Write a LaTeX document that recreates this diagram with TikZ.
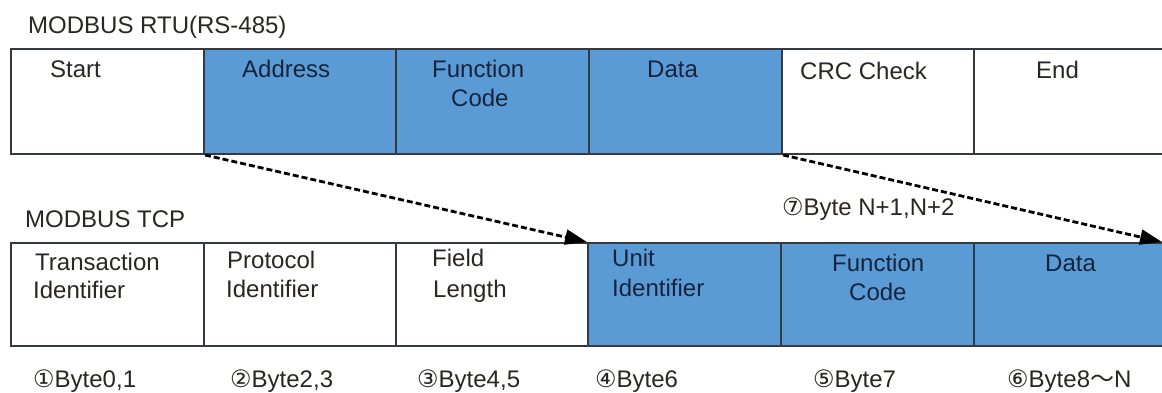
\documentclass[tikz,border=0pt]{standalone}
\usepackage{fontspec}
\setmainfont{Liberation Sans}
\newfontfamily\circfont{DejaVu Sans}
\newfontfamily\cjkfont{Noto Sans CJK SC}
\usetikzlibrary{arrows.meta}
\definecolor{mblue}{HTML}{5B9BD5}
\definecolor{edge}{HTML}{333A44}
\definecolor{navy}{HTML}{15243C}
\definecolor{ink}{HTML}{2A2622}
\begin{document}
\begin{tikzpicture}[x=1pt,y=-1pt,
  every node/.style={font=\fontsize{24}{29}\selectfont},
  wbox/.style={draw=edge, line width=2pt, fill=white, anchor=north west, inner sep=0pt, minimum width=#1},
  bbox/.style={draw=edge, line width=2pt, fill=mblue, anchor=north west, inner sep=0pt, minimum width=#1},
  toprow/.style={minimum height=105pt},
  botrow/.style={minimum height=103pt},
  wtxt/.style={anchor=base west, inner sep=0pt, text=ink, align=left},
  btxt/.style={anchor=base west, inner sep=0pt, text=navy, align=left},
  ttl/.style={anchor=base west, inner sep=0pt, text=ink},
  mapline/.style={line width=2.8pt, dash pattern=on 6pt off 3pt, -{Triangle[length=22pt,width=15pt]}}
]
\fill[white] (0,0) rectangle (1162,392);
\clip (0,0) rectangle (1162,392);
\useasboundingbox (0,0) rectangle (1162,392);

% titles
\node[ttl] (trtu) at (28,33) {MODBUS RTU(RS-485)};
\node[ttl] (ttcp) at (25,227) {MODBUS TCP};

% RTU row
\node[wbox=193pt, toprow] (r1) at (10,48) {};
\node[bbox=192pt, toprow] (r2) at (203,48) {};
\node[bbox=193pt, toprow] (r3) at (395,48) {};
\node[bbox=193pt, toprow] (r4) at (588,48) {};
\node[wbox=192pt, toprow] (r5) at (781,48) {};
\node[wbox=200pt, toprow] (r6) at (973,48) {};

\node[wtxt] (r1t) at (50,77) {Start};
\node[btxt] (r2t) at (242,77) {Address};
\node[btxt] (r3t) at (432,77) {Function};
\node[btxt] (r3u) at (451,106) {Code};
\node[btxt] (r4t) at (647,77) {Data};
\node[wtxt] (r5t) at (800,79) {CRC Check};
\node[wtxt] (r6t) at (1036,78) {End};

% TCP row
\node[wbox=193pt, botrow] (c1) at (10,242) {};
\node[wbox=192pt, botrow] (c2) at (203,242) {};
\node[wbox=192pt, botrow] (c3) at (395,242) {};
\node[bbox=193pt, botrow] (c4) at (587,242) {};
\node[bbox=193pt, botrow] (c5) at (780,242) {};
\node[bbox=200pt, botrow] (c6) at (973,242) {};

\node[wtxt] (c1t) at (35,270) {Transaction};
\node[wtxt] (c1u) at (33,298) {Identifier};
\node[wtxt] (c2t) at (227,268) {Protocol};
\node[wtxt] (c2u) at (226,297) {Identifier};
\node[wtxt] (c3t) at (432,266) {Field};
\node[wtxt] (c3u) at (433,297) {Length};
\node[btxt] (c4t) at (612,266) {Unit};
\node[btxt] (c4u) at (612,296) {Identifier};
\node[btxt] (c5t) at (832,271) {Function};
\node[btxt] (c5u) at (849,300) {Code};
\node[btxt] (c6t) at (1045,271) {Data};

% byte labels
\node[ttl] (b1) at (33,387) {{\circfont ①}Byte0,1};
\node[ttl] (b2) at (230,387) {{\circfont ②}Byte2,3};
\node[ttl] (b3) at (417,387) {{\circfont ③}Byte4,5};
\node[ttl] (b4) at (595,387) {{\circfont ④}Byte6};
\node[ttl] (b5) at (813,387) {{\circfont ⑤}Byte7};
\node[ttl] (b6) at (1007,387) {{\circfont ⑥}Byte8{\cjkfont ～}N};
\node[ttl] (b7) at (782,215) {{\circfont ⑦}Byte N+1,N+2};

% mapping arrows
\coordinate (e2) at (1162,242);
\draw[mapline] (r1.south east) -- (c4.north west);
\draw[mapline] (r4.south east) -- (e2);
\end{tikzpicture}
\end{document}
